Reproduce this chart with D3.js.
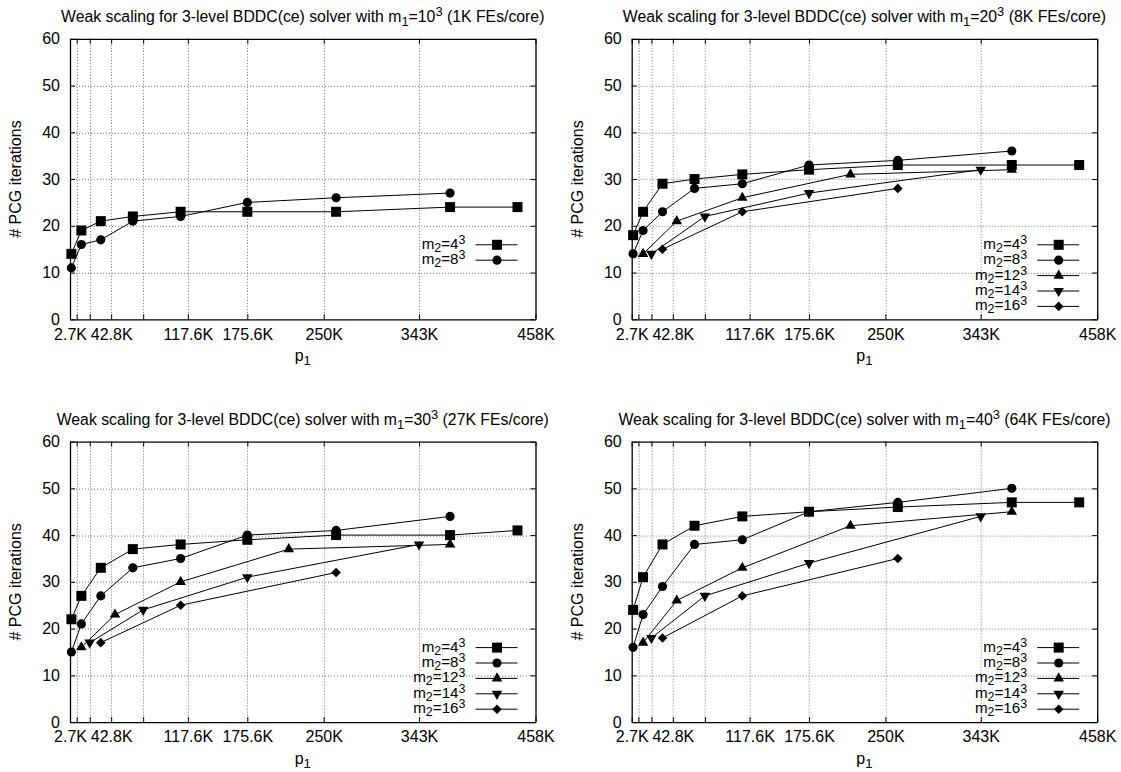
<!DOCTYPE html>
<html>
<head>
<meta charset="utf-8">
<script src="https://cdn.jsdelivr.net/npm/d3@7"></script>
<style>
  body { margin: 0; background: #fff; }
  text { font-family: "Liberation Sans", Arial, Helvetica, sans-serif; fill: #000; }
</style>
</head>
<body>
<svg></svg>
<script>
// ticks on the p1 axis (one grid line each, only some get a label)
const xTicks = [2744, 9261, 21952, 42875, 74088, 117649, 175616, 250047, 343000, 456533];
const xTickLabels = ["2.7K", "", "", "42.8K", "", "117.6K", "175.6K", "250K", "343K", "458K"];
const yTicks = [0, 10, 20, 30, 40, 50, 60];

const m1Sizes = ["10", "20", "30", "40"];
const feCounts = ["1K", "8K", "27K", "64K"];
const m2Sizes = ["4", "8", "12", "14", "16"];

// p1 values for each m2
const p1_m4 = [4096, 13824, 32768, 64000, 110592, 175616, 262144, 373248, 438976];
const p1_m8 = [4096, 13824, 32768, 64000, 110592, 175616, 262144, 373248];
const p1_m12 = [13824, 46656, 110592, 216000, 373248];
const p1_m14 = [21952, 74088, 175616, 343000];
const p1_m16 = [32768, 110592, 262144];

// # PCG iterations
const it_10_m4 = [14, 19, 21, 22, 23, 23, 23, 24, 24];
const it_10_m8 = [11, 16, 17, 21, 22, 25, 26, 27];

const it_20_m4 = [18, 23, 29, 30, 31, 32, 33, 33, 33];
const it_20_m8 = [14, 19, 23, 28, 29, 33, 34, 36];
const it_20_m12 = [14, 21, 26, 31, 32];
const it_20_m14 = [14, 22, 27, 32];
const it_20_m16 = [15, 23, 28];

const it_30_m4 = [22, 27, 33, 37, 38, 39, 40, 40, 41];
const it_30_m8 = [15, 21, 27, 33, 35, 40, 41, 44];
const it_30_m12 = [16, 23, 30, 37, 38];
const it_30_m14 = [17, 24, 31, 38];
const it_30_m16 = [17, 25, 32];

const it_40_m4 = [24, 31, 38, 42, 44, 45, 46, 47, 47];
const it_40_m8 = [16, 23, 29, 38, 39, 45, 47, 50];
const it_40_m12 = [17, 26, 33, 42, 45];
const it_40_m14 = [18, 27, 34, 44];
const it_40_m16 = [18, 27, 35];

const p1Lists = [p1_m4, p1_m8, p1_m12, p1_m14, p1_m16];
const panelIters = [
  [it_10_m4, it_10_m8],
  [it_20_m4, it_20_m8, it_20_m12, it_20_m14, it_20_m16],
  [it_30_m4, it_30_m8, it_30_m12, it_30_m14, it_30_m16],
  [it_40_m4, it_40_m8, it_40_m12, it_40_m14, it_40_m16]
];

const FS = 16, TITLE_FS = 15.8;
const svg = d3.select("svg").attr("width", 1121).attr("height", 772);
svg.append("rect").attr("width", 1121).attr("height", 772).attr("fill", "#fff");

const frameW = 465.5, frameH = 280.5;
const lefts = [70, 631.7], tops = [38.8, 441.6];

// gnuplot-ish point types
const diamond = {
  draw(ctx, size) {
    const r = Math.sqrt(size / 2);
    ctx.moveTo(0, -r); ctx.lineTo(r, 0); ctx.lineTo(0, r); ctx.lineTo(-r, 0); ctx.closePath();
  }
};
const downTri = {
  draw(ctx, size) {
    const h = Math.sqrt(size * Math.sqrt(3)), w = h / Math.sqrt(3);
    ctx.moveTo(-w, -h / 3); ctx.lineTo(w, -h / 3); ctx.lineTo(0, 2 * h / 3); ctx.closePath();
  }
};
const symbols = [
  d3.symbol(d3.symbolSquare, 100),
  d3.symbol(d3.symbolCircle, 66),
  d3.symbol(d3.symbolTriangle, 48),
  d3.symbol(downTri, 48),
  d3.symbol(diamond, 46)
];

function rich(sel, parts, fs, sub = 4, sup = -6) {
  let shift = 0;
  parts.forEach(([t, kind]) => {
    const target = kind === "sub" ? sub : kind === "sup" ? sup : 0;
    sel.append("tspan")
      .attr("dy", target - shift)
      .attr("font-size", kind ? fs * 0.82 : fs)
      .text(t);
    shift = target;
  });
}

panelIters.forEach((series, pi) => {
  const x0 = lefts[pi % 2], y0 = tops[Math.floor(pi / 2)];
  const g = svg.append("g").attr("transform", `translate(${x0},${y0})`);

  const x = d3.scaleLinear().domain([xTicks[0], xTicks[xTicks.length - 1]]).range([0, frameW]);
  const y = d3.scaleLinear().domain([0, 60]).range([frameH, 0]);

  // grid
  g.append("g").selectAll("line").data(xTicks.slice(1, -1)).join("line")
    .attr("x1", d => Math.round(x(d)) + 0.5).attr("x2", d => Math.round(x(d)) + 0.5)
    .attr("y1", 0).attr("y2", frameH)
    .attr("stroke", "#777").attr("stroke-width", 1).attr("stroke-dasharray", "1,2");
  g.append("g").selectAll("line").data(yTicks.slice(1, -1)).join("line")
    .attr("y1", d => Math.round(y(d)) + 0.5).attr("y2", d => Math.round(y(d)) + 0.5)
    .attr("x1", 0).attr("x2", frameW)
    .attr("stroke", "#777").attr("stroke-width", 1).attr("stroke-dasharray", "1,2");

  // axes with inward mirrored ticks
  const xAxisB = d3.axisBottom(x).tickValues(xTicks).tickSizeInner(-5).tickSizeOuter(0)
    .tickPadding(9).tickFormat((d, i) => xTickLabels[i]);
  const xAxisT = d3.axisTop(x).tickValues(xTicks).tickSizeInner(-5).tickSizeOuter(0).tickFormat("");
  const yAxisL = d3.axisLeft(y).tickValues(yTicks).tickSizeInner(-5).tickSizeOuter(0).tickPadding(10);
  const yAxisR = d3.axisRight(y).tickValues(yTicks).tickSizeInner(-5).tickSizeOuter(0).tickFormat("");

  [g.append("g").attr("transform", `translate(0,${frameH})`).call(xAxisB),
   g.append("g").call(xAxisT),
   g.append("g").call(yAxisL),
   g.append("g").attr("transform", `translate(${frameW},0)`).call(yAxisR)
  ].forEach(a => {
    a.selectAll("path").attr("stroke", "#000").attr("stroke-width", 1.3);
    a.selectAll("line").attr("stroke", "#000");
    a.selectAll("text").attr("font-size", FS).attr("font-family", null);
  });

  // series
  const line = d3.line().x(d => x(d[0])).y(d => y(d[1]));
  series.forEach((vals, si) => {
    const pts = vals.map((v, i) => [p1Lists[si][i], v]);
    g.append("path").datum(pts).attr("d", line)
      .attr("fill", "none").attr("stroke", "#000").attr("stroke-width", 1);
    g.append("g").selectAll("path").data(pts).join("path")
      .attr("transform", d => `translate(${x(d[0])},${y(d[1])})`)
      .attr("d", symbols[si]).attr("fill", "#000");
  });

  // legend
  const lg = g.append("g");
  series.forEach((vals, si) => {
    const ly = 206 + si * 15.4;
    const t = lg.append("text").attr("x", frameW - 70).attr("y", ly + 4)
      .attr("text-anchor", "end");
    rich(t, [["m"], ["2", "sub"], ["=" + m2Sizes[si]], ["3", "sup"]], FS * 0.95, 3, -5);
    lg.append("line").attr("x1", frameW - 60).attr("x2", frameW - 18)
      .attr("y1", ly).attr("y2", ly).attr("stroke", "#000");
    lg.append("path").attr("transform", `translate(${frameW - 38.5},${ly})`)
      .attr("d", symbols[si]).attr("fill", "#000");
  });

  // title and labels
  const title = g.append("text").attr("x", frameW / 2).attr("y", -17).attr("text-anchor", "middle");
  rich(title, [["Weak scaling for 3-level BDDC(ce) solver with m"], ["1", "sub"],
    ["=" + m1Sizes[pi]], ["3", "sup"], [" (" + feCounts[pi] + " FEs/core)"]], TITLE_FS);

  const xl = g.append("text").attr("x", frameW / 2).attr("y", frameH + 42).attr("text-anchor", "middle");
  rich(xl, [["p"], ["1", "sub"]], FS);

  g.append("text").attr("transform", `translate(-49,${frameH / 2}) rotate(-90)`)
    .attr("text-anchor", "middle").attr("font-size", FS).text("# PCG iterations");
});
</script>
</body>
</html>
